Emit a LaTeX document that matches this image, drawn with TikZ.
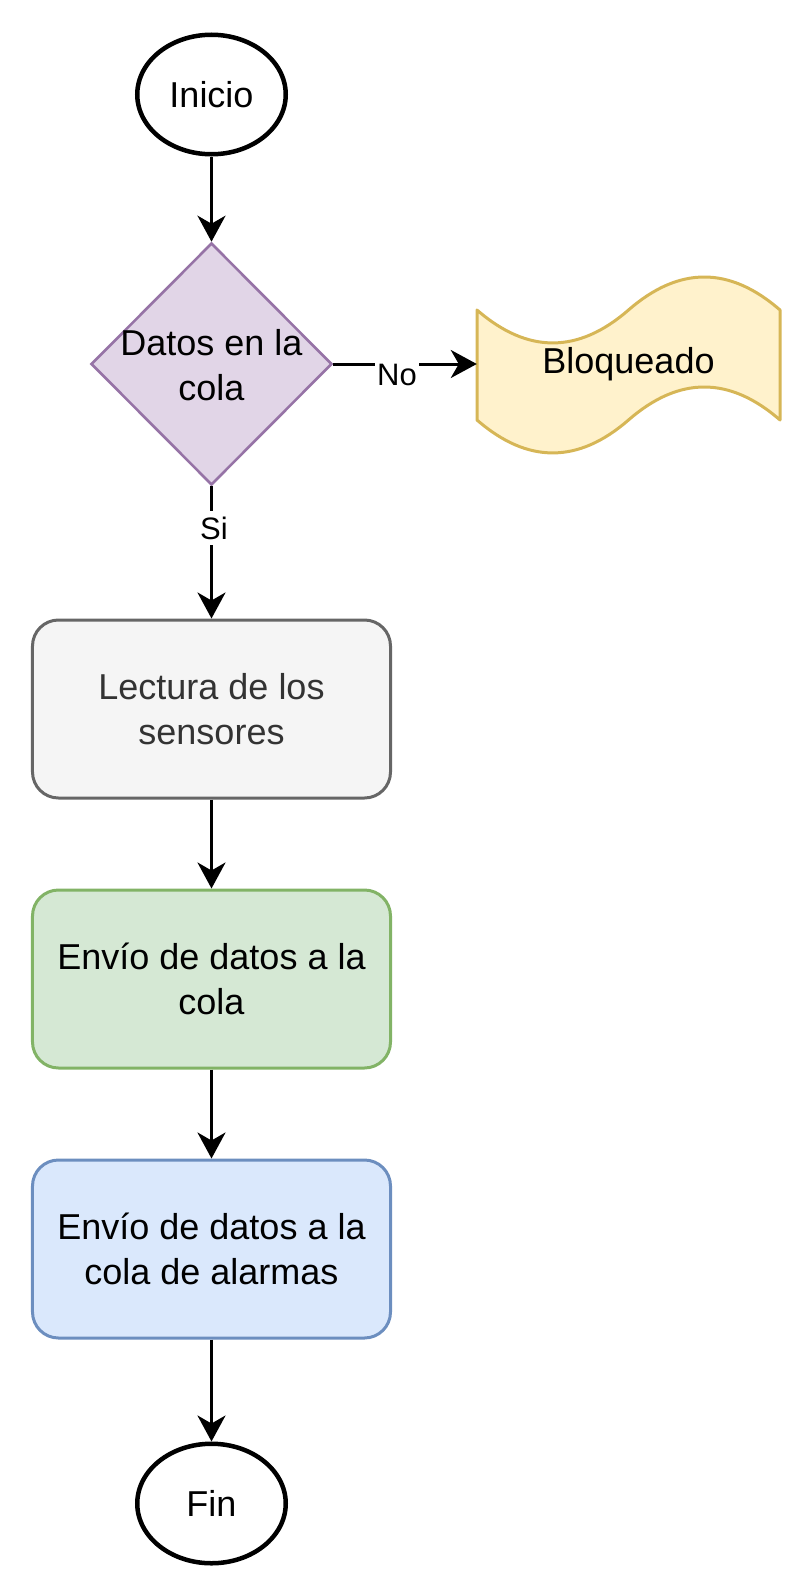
\documentclass[tikz,border=0pt]{standalone}
\usepackage{fontspec}
\setmainfont{Liberation Sans}
\usetikzlibrary{shapes.geometric,arrows.meta}
\definecolor{decfill}{HTML}{E1D5E7}
\definecolor{decdraw}{HTML}{9673A6}
\definecolor{tapefill}{HTML}{FFF2CC}
\definecolor{tapedraw}{HTML}{D6B656}
\definecolor{grayfill}{HTML}{F5F5F5}
\definecolor{graydraw}{HTML}{666666}
\definecolor{graytext}{HTML}{333333}
\definecolor{greenfill}{HTML}{D5E8D4}
\definecolor{greendraw}{HTML}{82B366}
\definecolor{bluefill}{HTML}{DAE8FC}
\definecolor{bluedraw}{HTML}{6C8EBF}
\tikzset{
  maintext/.style={font=\fontsize{36bp}{45bp}\selectfont, align=center},
  terminal/.style={ellipse, draw=black, line width=4.5bp, fill=white,
    minimum width=148.5bp, minimum height=119.5bp, inner sep=0pt, maintext},
  procbox/.style={rectangle, rounded corners=26bp, line width=3bp,
    minimum width=358bp, minimum height=178bp, inner sep=0pt, maintext},
  decbox/.style={diamond, draw=decdraw, fill=decfill, line width=2.6bp,
    minimum width=241bp, minimum height=242bp, inner sep=0pt, aspect=1},
  flow/.style={draw=black, line width=3bp,
    -{Stealth[length=26bp, width=28bp, inset=8bp]}},
  edgelabel/.style={fill=white, inner xsep=2bp, inner ysep=6bp,
    font=\fontsize{31bp}{37bp}\selectfont}
}
\begin{document}
\begin{tikzpicture}[x=1bp, y=-1bp]
\useasboundingbox (0,0) rectangle (810,1596);

% nodes
\node[terminal] (start) at (211.5,94.5) {Inicio};
\node[decbox] (dec) at (211.5,364) {};
\node[maintext] (dectext) at (211.5,365.5) {Datos en la\\cola};

% tape shape (Bloqueado)
\path[fill=tapefill, draw=tapedraw, line width=3bp, line join=round]
  (477,310) .. controls (527.5,353.9) and (578,353.9) .. (628.5,310)
  .. controls (679,266) and (729.5,266) .. (780,310)
  -- (780,420)
  .. controls (729.5,376) and (679,376) .. (628.5,420)
  .. controls (578,463.9) and (527.5,463.9) .. (477,420)
  -- cycle;
\node[maintext, minimum width=303bp, minimum height=110bp, inner sep=0pt]
  (blq) at (628.5,364) {Bloqueado};

\node[procbox, draw=graydraw, fill=grayfill, text=graytext] (lect) at (211.5,709)
  {Lectura de los\\sensores};
\node[procbox, draw=greendraw, fill=greenfill] (envio) at (211.5,979)
  {Env\'{\i}o de datos a la\\cola};
\node[procbox, draw=bluedraw, fill=bluefill] (alarm) at (211.5,1249)
  {Env\'{\i}o de datos a la\\cola de alarmas};
\node[terminal] (fin) at (211.5,1503.5) {Fin};

% connectors
\draw[flow] (start) -- (dec.north);
\draw[flow] (dec.east) -- (blq.west);
\node[edgelabel] (nolab) at (397,375) {No};
\draw[flow] (dec.south) -- (lect.north);
\node[edgelabel] (silab) at (214,528) {Si};
\draw[flow] (lect) -- (envio);
\draw[flow] (envio) -- (alarm);
\draw[flow] (alarm) -- (fin);
\end{tikzpicture}
\end{document}
